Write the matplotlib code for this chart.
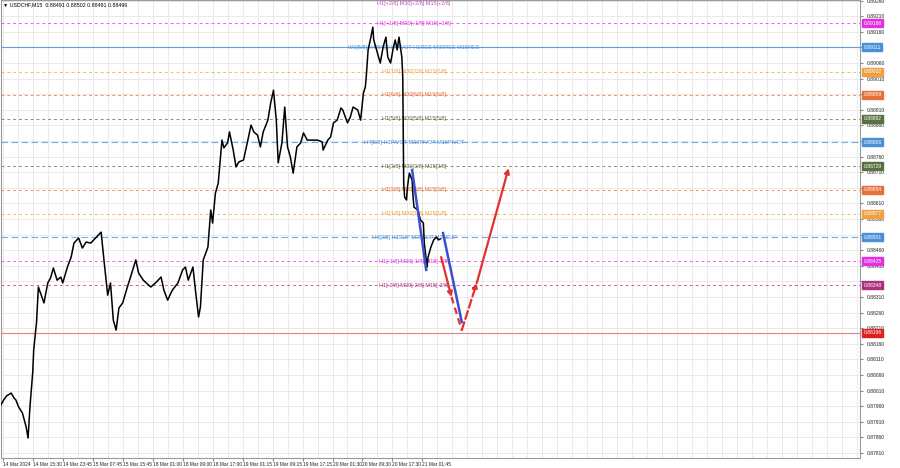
import numpy as np
import matplotlib.pyplot as plt

plt.rcParams['font.family'] = ['Liberation Sans', 'DejaVu Sans']

# titre du graphique
symbol_title = "\u25bc USDCHF,M15  0.88491 0.88502 0.88491 0.88496"

# trajectoire du prix (indice de barre M15, prix)
bars = [-2, 1, 4, 9, 12, 14, 17, 21, 25, 27, 29, 32, 33, 36, 38, 43, 44, 48, 51, 54,
        58, 62, 64, 69, 73, 76, 81, 85, 89, 94, 99, 105, 108, 112, 115, 118, 121, 124, 128, 133,
        137, 142, 145, 150, 158, 163, 169, 172, 176, 181, 187, 192, 195, 198, 203, 206, 209, 211, 214, 219,
        222, 224, 227, 230, 234, 236, 240, 242, 246, 249, 252, 257, 261, 265, 268, 272, 275, 278, 283, 286,
        289, 292, 294, 298, 301, 304, 307, 310, 314, 318, 321, 325, 331, 336, 341, 342, 347, 350, 353, 357,
        361, 363, 368, 371, 374, 379, 382, 385, 387, 388, 390, 393, 395, 396, 400, 403, 406, 409, 411, 414,
        417, 419, 421, 423, 426, 427, 428, 429, 431, 432, 434, 437, 438, 439, 443, 446, 449, 450, 453, 454,
        457, 460, 463, 465, 467]
prices = [0.87964, 0.87980, 0.87993, 0.88002, 0.87986, 0.87980, 0.87957, 0.87938, 0.87893, 0.87858,
          0.87957, 0.88070, 0.88140, 0.88227, 0.88342, 0.88300, 0.88291, 0.88355, 0.88371, 0.88403,
          0.88364, 0.88374, 0.88355, 0.88406, 0.88438, 0.88483, 0.88499, 0.88467, 0.88486, 0.88483,
          0.88499, 0.88518, 0.88429, 0.88316, 0.88355, 0.88236, 0.88204, 0.88275, 0.88291, 0.88342,
          0.88380, 0.88429, 0.88387, 0.88364, 0.88342, 0.88355, 0.88374, 0.88332, 0.88300, 0.88332,
          0.88355, 0.88397, 0.88406, 0.88364, 0.88406, 0.88323, 0.88246, 0.88278, 0.88429, 0.88470,
          0.88589, 0.88547, 0.88643, 0.88675, 0.88813, 0.88788, 0.88804, 0.88839, 0.88781, 0.88727,
          0.88743, 0.88749, 0.88804, 0.88861, 0.88839, 0.88829, 0.88791, 0.88839, 0.88877, 0.88932,
          0.88973, 0.88877, 0.88740, 0.88804, 0.88919, 0.88791, 0.88759, 0.88707, 0.88791, 0.88804,
          0.88836, 0.88813, 0.88813, 0.88813, 0.88807, 0.88781, 0.88813, 0.88823, 0.88868, 0.88877,
          0.88916, 0.88909, 0.88868, 0.88887, 0.88919, 0.88909, 0.88877, 0.88964, 0.88983, 0.89015,
          0.89102, 0.89143, 0.89175, 0.89134, 0.89092, 0.89060, 0.89111, 0.89143, 0.89079, 0.89060,
          0.89111, 0.89134, 0.89102, 0.89143, 0.89079, 0.89015, 0.88675, 0.88630, 0.88621, 0.88662,
          0.88707, 0.88685, 0.88630, 0.88598, 0.88589, 0.88557, 0.88547, 0.88483, 0.88406, 0.88438,
          0.88470, 0.88493, 0.88502, 0.88493, 0.88496]

time_labels = ["14 Mar 2024", "14 Mar 15:30", "14 Mar 23:45", "15 Mar 07:45", "15 Mar 15:45",
               "18 Mar 01:00", "18 Mar 09:00", "18 Mar 17:00", "19 Mar 01:15", "19 Mar 09:15",
               "19 Mar 17:15", "20 Mar 01:30", "20 Mar 09:30", "20 Mar 17:30", "21 Mar 01:45"]

# niveaux Murrey
level_prices = [0.89264, 0.89188, 0.89111, 0.89032, 0.88959, 0.88882, 0.88806,
                0.88729, 0.88654, 0.88577, 0.88501, 0.88425, 0.88348]
level_names = ["H1[+2/8] M30[+2/8] M15[+2/8]",
               "H1[+1/8] M30[+1/8] M15[+1/8]",
               "W1[5/8] H4[8/8] H4PIVOT H1RES M30RES M15RES",
               "H1[7/8] M30[7/8] M15[7/8]",
               "H1[6/8] M30[6/8] M15[6/8]",
               "H1[5/8] M30[5/8] M15[5/8]",
               "H4[5/8] H1PIVOT M30PIVOT M15PIVOT",
               "H1[3/8] M30[3/8] M15[3/8]",
               "H1[2/8] M30[2/8] M15[2/8]",
               "H1[1/8] M30[1/8] M15[1/8]",
               "H4[2/8] H1SUP M30SUP M15SUP",
               "H1[-1/8] M30[-1/8] M15[-1/8]",
               "H1[-2/8] M30[-2/8] M15[-2/8]"]
level_colors = ['#c050c0', '#e030e0', '#4a90d9', '#f0a040', '#e8703a', '#5a7040', '#4a90d9',
                '#5a7040', '#e8703a', '#f0a040', '#4a90d9', '#e030e0', '#b03080']
level_boxed = [False, True, True, True, True, True, True, True, True, True, True, True, True]

support_price = 0.88196

# fleches du scenario
blue1_x = [437, 452]
blue1_y = [0.88717, 0.88397]
blue2_x = [470, 490]
blue2_y = [0.88515, 0.88230]
red_down_x = [468, 479, 490]
red_down_y = [0.88438, 0.88310, 0.88204]
red_up_x = [490, 506, 540]
red_up_y = [0.88204, 0.88355, 0.88723]

fig = plt.figure(figsize=(9, 4.68), dpi=100)
ax = fig.add_axes([0.001, 10/468, 859/900, 458/468])
ax.set_xlim(-2, 915)
ax.set_ylim(0.87794, 0.89262)

# grille
for b in range(0, 916, 16):
    ax.axvline(b, color='#e6e6e6', lw=0.6, zorder=0)
yt = np.arange(0.87810, 0.89262, 0.0005)
for v in yt:
    ax.axhline(v, color='#e6e6e6', lw=0.6, zorder=0)

# niveaux
boxed_prices = [support_price]
for p, name, c, boxed in zip(level_prices, level_names, level_colors, level_boxed):
    if name.startswith("W1"):
        ax.axhline(p, color=c, lw=0.8, alpha=0.85, zorder=1)
    elif name.startswith("H4"):
        ax.axhline(p, color=c, lw=0.8, ls=(0, (6, 3)), alpha=0.75, zorder=1)
    else:
        ax.axhline(p, color=c, lw=0.7, ls=(0, (3, 3)), alpha=0.75, zorder=1)
    ty = min(p, 0.89250)
    ax.text(439, ty, name, color=c, fontsize=4, ha='center', va='center', zorder=2)
    if boxed:
        boxed_prices.append(p)
        ax.text(1.004, p, "%.5f" % p, transform=ax.get_yaxis_transform(), fontsize=3.6,
                color='white', va='center', ha='left', clip_on=False, zorder=5,
                bbox=dict(boxstyle='square,pad=0.3', fc=c, ec=c))

ax.axhline(support_price, color='#e88080', lw=0.8, zorder=1)
ax.text(1.004, support_price, "%.5f" % support_price, transform=ax.get_yaxis_transform(),
        fontsize=3.6, color='white', va='center', ha='left', clip_on=False, zorder=5,
        bbox=dict(boxstyle='square,pad=0.3', fc='#e02020', ec='#e02020'))

# prix
ax.plot(bars, prices, color='black', lw=1.1, zorder=3)

# scenario
ax.plot(blue1_x, blue1_y, color='#3a4fd0', lw=1.8, zorder=4)
ax.plot(blue2_x, blue2_y, color='#3a4fd0', lw=1.8, zorder=4)
red = '#e53030'
ax.annotate('', xy=(red_down_x[1], red_down_y[1]), xytext=(red_down_x[0], red_down_y[0]),
            arrowprops=dict(arrowstyle='-|>', color=red, lw=1.6, mutation_scale=7,
                            shrinkA=0, shrinkB=0), zorder=4)
ax.plot(red_down_x[1:], red_down_y[1:], color=red, lw=1.6, ls=(0, (3, 2)), zorder=4)
ax.annotate('', xy=(red_up_x[1], red_up_y[1]), xytext=(red_up_x[0], red_up_y[0]),
            arrowprops=dict(arrowstyle='-|>', color=red, lw=1.6, ls='--', mutation_scale=7,
                            shrinkA=0, shrinkB=0), zorder=4)
ax.annotate('', xy=(red_up_x[2], red_up_y[2]), xytext=(red_up_x[1], red_up_y[1]),
            arrowprops=dict(arrowstyle='-|>', color=red, lw=1.6, mutation_scale=7,
                            shrinkA=0, shrinkB=0), zorder=4)

# axes (les etiquettes cachees par une boite restent vides)
ylabels = []
for v in yt:
    hidden = any(abs(v - bp) < 0.00012 for bp in boxed_prices)
    ylabels.append("" if hidden else "%.5f" % v)
ax.yaxis.tick_right()
ax.set_yticks(yt)
ax.set_yticklabels(ylabels, fontsize=3.6, color='#222222')
ax.tick_params(axis='y', length=2, pad=3, color='#888888')
ax.set_xticks(range(0, 32 * len(time_labels), 32))
ax.set_xticklabels(time_labels, fontsize=3.5, ha='left', color='#222222')
ax.tick_params(axis='x', length=2, pad=1, color='#888888')
for s in ax.spines.values():
    s.set_color('#999999')
    s.set_linewidth(0.8)

ax.text(0.003, 0.995, symbol_title, transform=ax.transAxes, fontsize=3.8, va='top', ha='left')

fig.savefig('out.png', dpi=100)
